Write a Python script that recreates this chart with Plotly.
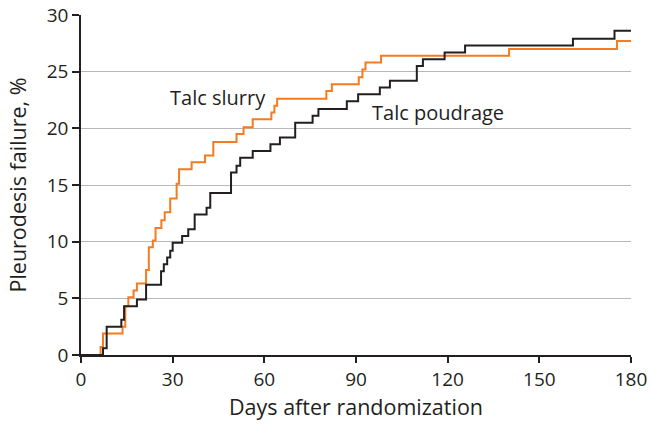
import plotly.graph_objects as go

# Talc slurry (orange) step curve: event days and cumulative failure %
slurry_days = [0, 6.4, 7.2, 13.6, 14.5, 15.5, 17.2, 18.3, 21.3, 22.2, 23.5, 24.4, 26.3, 27.4,
               29.2, 31.3, 32.1, 36.2, 40.6, 43.3, 50.9, 53.2, 56.2, 62.3, 63.3, 64.2, 80.3,
               82.1, 90.9, 92.1, 93.1, 98.2, 140.1, 175.4, 180]
slurry_vals = [0, 0.7, 1.9, 2.5, 4.3, 5.1, 5.7, 6.3, 7.5, 9.5, 10.1, 11.2, 11.9, 12.6,
               13.8, 15.1, 16.4, 17.0, 17.6, 18.8, 19.5, 20.1, 20.8, 21.4, 22.0, 22.6, 23.3,
               23.9, 24.5, 25.2, 25.8, 26.4, 27.0, 27.7, 27.7]

# Talc poudrage (black) step curve
poudrage_days = [0, 7.2, 8.4, 13.2, 14.1, 18.3, 21.3, 26.2, 27.1, 28.2, 29.2, 30.0, 33.1, 35.1,
                 37.2, 41.1, 42.3, 49.1, 50.9, 52.1, 56.2, 62.0, 65.1, 70.1, 75.8, 77.7, 87.0,
                 90.7, 97.8, 101.1, 109.9, 111.9, 119.0, 125.7, 161.0, 174.6, 180]
poudrage_vals = [0, 0.6, 2.5, 3.1, 4.3, 4.9, 6.2, 7.4, 8.0, 8.6, 9.2, 9.9, 10.5, 11.1,
                 12.4, 13.0, 14.3, 16.1, 16.7, 17.4, 18.0, 18.6, 19.2, 20.5, 21.1, 21.7, 22.4,
                 23.0, 23.6, 24.2, 25.5, 26.1, 26.7, 27.3, 27.9, 28.6, 28.6]

x_ticks = [0, 30, 60, 90, 120, 150, 180]
y_ticks = [0, 5, 10, 15, 20, 25, 30]

series_labels = ["Talc slurry", "Talc poudrage"]

ORANGE = "#f47b20"
DARK = "#231f20"
FONT = "Open Sans, Lato, sans-serif"

fig = go.Figure()
fig.add_trace(go.Scatter(x=slurry_days, y=slurry_vals, mode="lines", line_shape="hv",
                         line=dict(color=ORANGE, width=2), name=series_labels[0],
                         showlegend=False))
fig.add_trace(go.Scatter(x=poudrage_days, y=poudrage_vals, mode="lines", line_shape="hv",
                         line=dict(color=DARK, width=2), name=series_labels[1],
                         showlegend=False))

fig.add_annotation(x=44.8, y=22.7, text=series_labels[0], showarrow=False,
                   font=dict(family=FONT, size=20, color=DARK))
fig.add_annotation(x=116.7, y=21.4, text=series_labels[1], showarrow=False,
                   font=dict(family=FONT, size=20, color=DARK))

fig.update_layout(
    width=651, height=427,
    margin=dict(l=81, r=20, t=15, b=72),
    paper_bgcolor="white", plot_bgcolor="white",
    font=dict(family=FONT, size=19, color=DARK),
    xaxis=dict(range=[0, 180], tickvals=x_ticks, showgrid=False, zeroline=False,
               showline=True, linecolor=DARK, linewidth=1.5, ticks="outside",
               ticklen=6, tickcolor=DARK, tickwidth=1.5, automargin=False,
               tickfont=dict(size=19),
               title=dict(text="Days after randomization", font=dict(size=21.5), standoff=6)),
    yaxis=dict(range=[0, 30], tickvals=y_ticks, showgrid=True, gridcolor="#b8b8b8",
               gridwidth=1, zeroline=False, showline=True, linecolor=DARK, linewidth=1.5,
               ticks="outside", ticklen=7, tickcolor=DARK, tickwidth=1.5, automargin=False,
               tickfont=dict(size=19),
               title=dict(text="Pleurodesis failure, %", font=dict(size=21.5), standoff=14)),
)

fig.write_html("out.html", config={"displayModeBar": False},
               post_script="document.body.style.margin='0';document.body.style.padding='0';")
